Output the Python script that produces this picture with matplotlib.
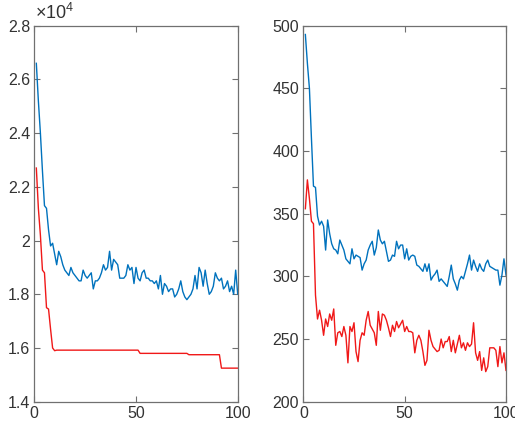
import matplotlib
matplotlib.use("Agg")
import matplotlib.pyplot as plt
from matplotlib.ticker import FuncFormatter

plt.rcParams['font.family'] = ['Liberation Sans', 'DejaVu Sans']
plt.rcParams['mathtext.fontset'] = 'custom'
plt.rcParams['mathtext.rm'] = 'Liberation Sans'
plt.rcParams['mathtext.it'] = 'Liberation Sans'

iterations = list(range(1, 101))

left_blue = [26600, 25200, 24000, 22600, 21300, 21200, 20400, 19800, 19900, 19500,
             19100, 19600, 19400, 19100, 18900, 18800, 18700, 19000, 18800, 18700,
             18600, 18500, 18500, 18900, 18700, 18600, 18700, 18800, 18200, 18500,
             18500, 18600, 18800, 19100, 18900, 19000, 19600, 18900, 19300, 19200,
             19100, 18600, 18600, 18600, 18700, 19100, 18900, 19000, 18400, 19000,
             18600, 18500, 18800, 18900, 18600, 18600, 18500, 18500, 18400, 18500,
             18200, 18700, 18000, 18400, 18300, 18100, 18200, 18200, 17900, 18000,
             18200, 18500, 18100, 17900, 17800, 17900, 18000, 18200, 18700, 18200,
             19000, 18800, 18300, 18900, 18400, 18000, 18100, 18300, 18800, 18600,
             18500, 18600, 18200, 18300, 18500, 18100, 18300, 18000, 18900, 18000]

left_red = [22700, 21200, 20200, 18900, 18800, 17500, 17450, 16700, 16000, 15900] \
    + [15920] * 41 + [15800] * 24 + [15750] * 16 + [15250] * 9

right_blue = [493, 470, 450, 410, 372, 371, 348, 341, 344, 340,
              321, 345, 334, 326, 322, 321, 318, 329, 325, 321,
              314, 312, 310, 322, 314, 317, 316, 315, 305, 310,
              313, 321, 325, 328, 317, 323, 337, 329, 326, 328,
              320, 312, 313, 317, 316, 328, 322, 325, 325, 314,
              322, 313, 316, 317, 316, 309, 308, 306, 304, 310,
              304, 310, 297, 300, 302, 305, 296, 298, 296, 294,
              292, 300, 309, 298, 294, 289, 297, 300, 298, 304,
              310, 317, 305, 313, 308, 304, 310, 306, 304, 310,
              313, 308, 307, 306, 305, 305, 293, 301, 314, 301]

right_red = [354, 377, 362, 344, 342, 285, 266, 273, 265, 253,
             266, 260, 270, 265, 274, 245, 255, 256, 252, 260,
             253, 231, 260, 256, 263, 240, 232, 249, 255, 253,
             265, 272, 261, 258, 255, 245, 272, 257, 270, 269,
             265, 259, 252, 261, 256, 264, 259, 262, 265, 256,
             260, 256, 256, 255, 239, 249, 253, 249, 240, 229,
             233, 257, 249, 244, 242, 240, 241, 250, 243, 248,
             248, 252, 240, 249, 239, 246, 253, 243, 247, 241,
             247, 244, 246, 263, 239, 233, 240, 225, 235, 224,
             228, 243, 243, 243, 241, 228, 244, 231, 239, 225]

x_ticks = [0, 50, 100]
left_yticks = [1.4, 1.6, 1.8, 2.0, 2.2, 2.4, 2.6, 2.8]
right_yticks = [200, 250, 300, 350, 400, 450, 500]

BLUE = '#0072BD'
RED = '#F01818'
AXC = '#707070'
TXT = '#333333'

fig = plt.figure(figsize=(5.15, 4.25), dpi=100)
ax1 = fig.add_axes([0.0666, 0.0548, 0.395, 0.8847])
ax2 = fig.add_axes([0.589, 0.0548, 0.3935, 0.8847])

ax1.plot(iterations, [v / 1e4 for v in left_blue], color=BLUE, lw=1.0)
ax1.plot(iterations, [v / 1e4 for v in left_red], color=RED, lw=1.0)
ax1.set_ylim(1.4, 2.8)
ax1.set_yticks(left_yticks)
ax1.yaxis.set_major_formatter(FuncFormatter(lambda v, p: '%g' % round(v, 2)))
ax1.text(0.005, 1.006, r'$\times10^{4}$', transform=ax1.transAxes, ha='left',
         va='bottom', fontsize=13, color=TXT)

ax2.plot(iterations, right_blue, color=BLUE, lw=1.0)
ax2.plot(iterations, right_red, color=RED, lw=1.0)
ax2.set_ylim(200, 500)
ax2.set_yticks(right_yticks)

for ax in (ax1, ax2):
    ax.set_xlim(0, 100)
    ax.set_xticks(x_ticks)
    for s in ax.spines.values():
        s.set_color(AXC)
        s.set_linewidth(0.9)
    ax.tick_params(direction='in', length=4, width=0.8, color=AXC,
                   top=True, right=True, labelsize=11.5, labelcolor=TXT, pad=3)

fig.savefig('out.png', dpi=100)
